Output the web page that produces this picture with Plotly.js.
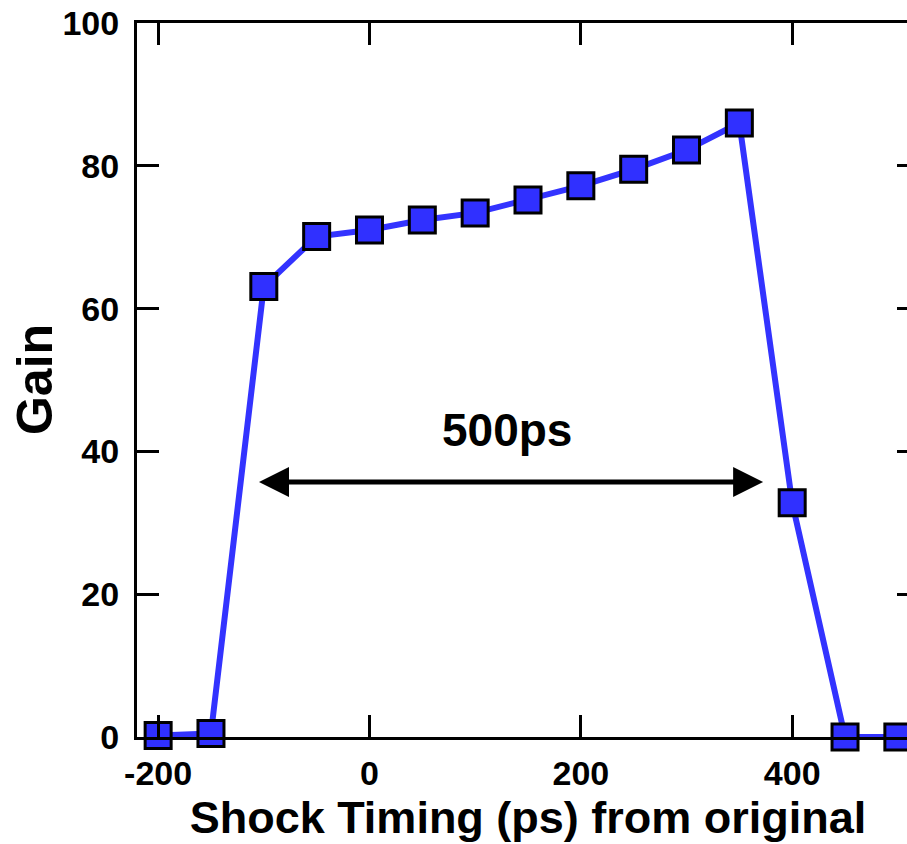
<!DOCTYPE html>
<html>
<head>
<meta charset="utf-8">
<script src="https://cdn.plot.ly/plotly-3.0.1.min.js"></script>
<style>
html, body { margin: 0; padding: 0; overflow: hidden; background: #fff; }
#chart { width: 940px; height: 844px; }
</style>
</head>
<body>
<div id="chart"></div>
<script>
const shockTiming = [-200, -150, -100, -50, 0, 50, 100, 150, 200, 250, 300, 350, 400, 450, 500];
const gain = [0.2, 0.5, 63.1, 70.1, 71.0, 72.4, 73.4, 75.2, 77.2, 79.5, 82.2, 86.0, 32.8, 0.0, 0.0];

const xTickVals = [-200, 0, 200, 400];
const xTickText = ['-200', '0', '200', '400'];
const yTickVals = [0, 20, 40, 60, 80, 100];
const yTickText = ['0', '20', '40', '60', '80', '100'];

const arrowLabel = '500ps';
const arrowStart = [-106, 35.7];
const arrowEnd = [372.5, 35.7];
const labelPos = [130, 43];

const xTitle = 'Shock Timing (ps) from original';
const yTitle = 'Gain';

const trace = {
  x: shockTiming,
  y: gain,
  type: 'scatter',
  mode: 'lines+markers',
  cliponaxis: false,
  line: { color: '#3333ff', width: 6 },
  marker: { symbol: 'square', size: 26, color: '#3030ff', line: { color: '#000', width: 3 } },
  hoverinfo: 'skip'
};

const tickFont = { family: 'Liberation Sans, Arial', size: 34, color: '#000', weight: 'bold' };
const titleFont = { family: 'Liberation Sans, Arial', size: 45, color: '#000', weight: 'bold' };

const layout = {
  width: 940,
  height: 844,
  margin: { l: 137, r: 21, t: 23, b: 107 },
  paper_bgcolor: '#fff',
  plot_bgcolor: '#fff',
  showlegend: false,
  xaxis: {
    range: [-220, 520],
    tickvals: xTickVals,
    ticktext: xTickText,
    ticks: 'inside',
    ticklen: 22,
    tickwidth: 3,
    tickcolor: '#000',
    showline: true,
    linewidth: 3,
    linecolor: '#000',
    mirror: 'ticks',
    showgrid: false,
    zeroline: false,
    tickfont: tickFont,
    ticklabelstandoff: 4,
    title: { text: xTitle, font: titleFont, standoff: 10 }
  },
  yaxis: {
    range: [0, 100],
    tickvals: yTickVals,
    ticktext: yTickText,
    ticks: 'inside',
    ticklen: 22,
    tickwidth: 3,
    tickcolor: '#000',
    showline: true,
    linewidth: 3,
    linecolor: '#000',
    mirror: 'ticks',
    showgrid: false,
    zeroline: false,
    tickfont: tickFont,
    ticklabelstandoff: 8
  },
  annotations: [
    {
      x: arrowEnd[0], y: arrowEnd[1],
      ax: arrowStart[0], ay: arrowStart[1],
      xref: 'x', yref: 'y', axref: 'x', ayref: 'y',
      text: '',
      showarrow: true,
      arrowside: 'end+start',
      arrowhead: 2,
      startarrowhead: 2,
      arrowsize: 1.2,
      startarrowsize: 1.2,
      arrowwidth: 5,
      arrowcolor: '#000',
      standoff: 0,
      startstandoff: 0
    },
    {
      x: labelPos[0], y: labelPos[1],
      xref: 'x', yref: 'y',
      text: arrowLabel,
      showarrow: false,
      font: { family: 'Liberation Sans, Arial', size: 46, color: '#000', weight: 'bold' },
      xanchor: 'center', yanchor: 'middle'
    },
    {
      x: -0.1304, y: 0.5,
      xref: 'paper', yref: 'paper',
      text: yTitle,
      textangle: -90,
      showarrow: false,
      font: { family: 'Liberation Sans, Arial', size: 50, color: '#000', weight: 'bold' },
      xanchor: 'center', yanchor: 'middle'
    }
  ]
};

Plotly.newPlot('chart', [trace], layout, { displayModeBar: false, staticPlot: true });
</script>
</body>
</html>
